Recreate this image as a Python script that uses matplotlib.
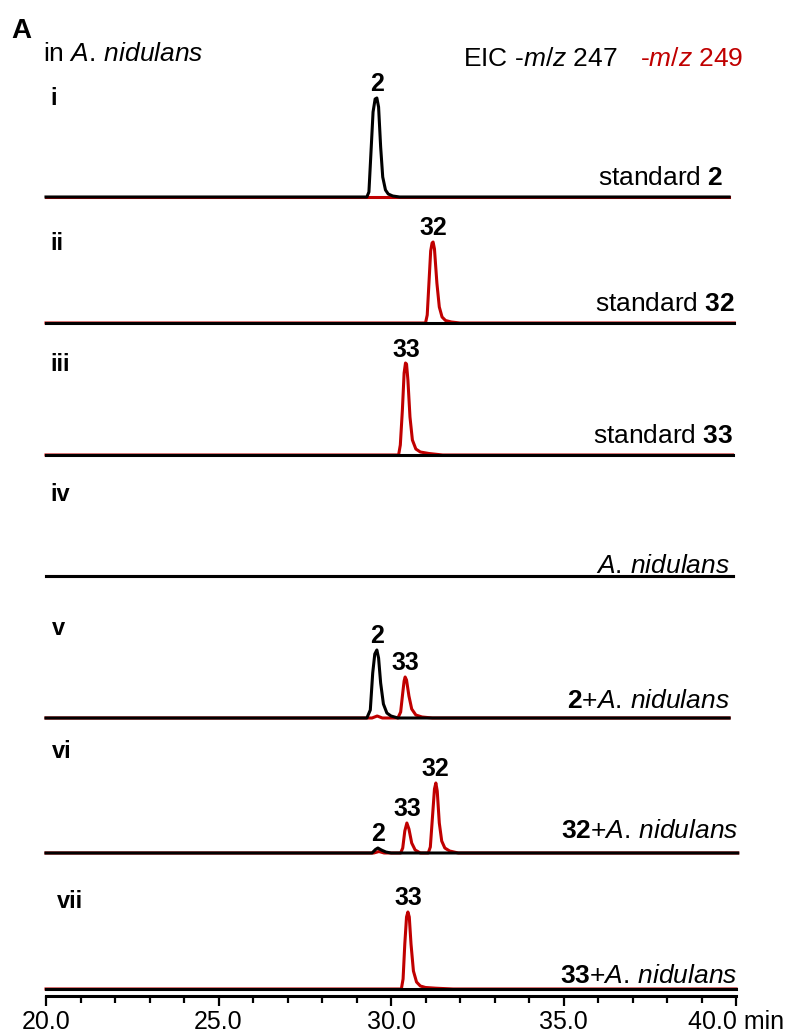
import numpy as np
import matplotlib
matplotlib.use("Agg")
import matplotlib.pyplot as plt
from matplotlib.ticker import MultipleLocator, FuncFormatter

plt.rcParams['font.family'] = ['Liberation Sans', 'DejaVu Sans']
plt.rcParams['mathtext.fontset'] = 'custom'
plt.rcParams['mathtext.rm'] = 'Liberation Sans'
plt.rcParams['mathtext.it'] = 'Liberation Sans:italic'
plt.rcParams['mathtext.bf'] = 'Liberation Sans:bold'

BLACK = '#000000'
RED = '#c00000'

# EIC traces, time in min, intensity relative (1.0 = full panel peak)
panel_ids = ['i', 'ii', 'iii', 'iv', 'v', 'vi', 'vii']
species = r'$\mathit{A.}\,\mathit{nidulans}$'
sample_names = [r'standard $\mathbf{2}$',
                r'standard $\mathbf{32}$',
                r'standard $\mathbf{33}$',
                species,
                r'$\mathbf{2}$+' + species,
                r'$\mathbf{32}$+' + species,
                r'$\mathbf{33}$+' + species]

# m/z 247 (black)
t_247 = [
    [20.0, 29.30, 29.36, 29.42, 29.48, 29.54, 29.59, 29.64, 29.70, 29.76, 29.84, 29.92, 30.05, 30.25, 39.8],
    [20.0, 39.95],
    [20.0, 39.9],
    [20.0, 39.9],
    [20.0, 29.30, 29.40, 29.47, 29.53, 29.59, 29.64, 29.70, 29.78, 29.88, 30.00, 30.20, 39.8],
    [20.0, 29.45, 29.55, 29.62, 29.72, 29.85, 30.00, 40.05],
    [20.0, 40.0],
]
i_247 = [
    [0, 0, 0.05, 0.45, 0.85, 0.98, 0.99, 0.90, 0.50, 0.20, 0.07, 0.03, 0.01, 0, 0],
    [0, 0],
    [0, 0],
    [0, 0],
    [0, 0, 0.08, 0.45, 0.64, 0.68, 0.60, 0.35, 0.14, 0.05, 0.02, 0, 0],
    [0, 0, 0.035, 0.05, 0.03, 0.01, 0, 0],
    [0, 0],
]

# m/z 249 (red)
t_249 = [
    [20.0, 39.8],
    [20.0, 31.00, 31.05, 31.10, 31.15, 31.19, 31.22, 31.26, 31.33, 31.40, 31.48, 31.58, 31.75, 32.00, 39.95],
    [20.0, 30.22, 30.27, 30.33, 30.38, 30.42, 30.45, 30.49, 30.55, 30.62, 30.72, 30.85, 31.10, 31.50, 39.9],
    [20.0, 39.9],
    [20.0, 29.45, 29.60, 29.75, 30.20, 30.28, 30.34, 30.38, 30.41, 30.45, 30.52, 30.60, 30.72, 30.90, 31.20, 39.8],
    [20.0, 29.50, 29.65, 29.80, 30.28, 30.34, 30.40, 30.46, 30.52, 30.60, 30.70, 30.85,
     31.08, 31.14, 31.20, 31.26, 31.30, 31.34, 31.40, 31.47, 31.56, 31.70, 31.95, 40.05],
    [20.0, 30.30, 30.35, 30.40, 30.45, 30.49, 30.53, 30.58, 30.65, 30.74, 30.85, 31.00, 31.30, 31.80, 40.0],
]
i_249 = [
    [0, 0],
    [0, 0, 0.08, 0.40, 0.72, 0.80, 0.81, 0.74, 0.40, 0.16, 0.06, 0.025, 0.01, 0, 0],
    [0, 0, 0.10, 0.45, 0.82, 0.92, 0.91, 0.75, 0.38, 0.15, 0.06, 0.03, 0.015, 0, 0],
    [0, 0],
    [0, 0, 0.02, 0, 0, 0.06, 0.25, 0.37, 0.41, 0.38, 0.22, 0.09, 0.03, 0.01, 0, 0],
    [0, 0, 0.015, 0, 0, 0.05, 0.22, 0.30, 0.24, 0.10, 0.03, 0,
     0, 0.06, 0.35, 0.64, 0.70, 0.62, 0.30, 0.12, 0.05, 0.02, 0, 0],
    [0, 0, 0.10, 0.45, 0.72, 0.77, 0.72, 0.45, 0.18, 0.07, 0.03, 0.015, 0.008, 0, 0],
]

# peak annotations: (compound, trace, retention time)
peak_labels = [
    [('2', 247, 29.59)],
    [('32', 249, 31.22)],
    [('33', 249, 30.45)],
    [],
    [('2', 247, 29.59), ('33', 249, 30.41)],
    [('2', 247, 29.62), ('33', 249, 30.46), ('32', 249, 31.30)],
    [('33', 249, 30.49)],
]

# layout (pixels)
W, H = 788, 1034
x_left, x_right, axis_y = 46, 736, 996
px_per_unit = 100.0
baseline_px = [197, 323, 455, 576, 718, 853, 989]
id_pos = [(50, 105), (50, 250), (50, 371), (50, 501), (52, 635), (52, 758), (57, 908)]
name_pos = [(724, 185), (735, 311), (733, 443), (730, 573), (730, 708), (738, 838), (737, 983)]


def fpos(x, y):
    return x / W, 1 - y / H


fig = plt.figure(figsize=(W / 100, H / 100), dpi=100)
ax = fig.add_axes([x_left / W, (H - axis_y) / H, (x_right - x_left) / W, axis_y / H])
ax.set_xlim(20, 40)
ax.set_ylim(0, axis_y / px_per_unit)

for k in range(len(panel_ids)):
    off = (axis_y - baseline_px[k]) / px_per_unit
    tr = np.array(t_249[k]); yr = np.array(i_249[k])
    tb = np.array(t_247[k]); yb = np.array(i_247[k])
    ax.plot(tr, off + yr, color=RED, lw=2.2, clip_on=False, solid_joinstyle='round')
    ax.plot(tb, off + yb, color=BLACK, lw=2.2, clip_on=False, solid_joinstyle='round')

    traces = {247: (tb, yb), 249: (tr, yr)}
    for name, mz, rt in peak_labels[k]:
        t, y = traces[mz]
        h = np.interp(rt, t, y)
        ax.annotate(name, (rt, off + h), xytext=(0, 5), textcoords='offset points',
                    ha='center', va='baseline', fontsize=18, fontweight='bold')

    fig.text(*fpos(*id_pos[k]), panel_ids[k], ha='left', va='baseline',
             fontsize=17, fontweight='bold')
    fig.text(*fpos(*name_pos[k]), sample_names[k], ha='right', va='baseline', fontsize=19)

for s in ['top', 'left', 'right']:
    ax.spines[s].set_visible(False)
ax.spines['bottom'].set_linewidth(2.2)
ax.set_yticks([])
ax.xaxis.set_major_locator(MultipleLocator(5))
ax.xaxis.set_minor_locator(MultipleLocator(1))
ax.xaxis.set_major_formatter(FuncFormatter(
    lambda v, p: f'{v:.1f} min' if abs(v - 40) < 1e-6 else f'{v:.1f}'))
ax.tick_params(axis='x', which='major', direction='out', length=7, width=1.6,
               labelsize=18, pad=3)
ax.tick_params(axis='x', which='minor', direction='out', length=5, width=1.6)

fig.text(*fpos(11, 38), 'A', ha='left', va='baseline', fontsize=20, fontweight='bold')
fig.text(*fpos(43, 61), r'in ' + species, ha='left', va='baseline', fontsize=19)
fig.text(*fpos(463, 66), r'EIC -$\mathit{m/z}$ 247', ha='left', va='baseline', fontsize=19)
fig.text(*fpos(743, 66), r'-$\mathit{m/z}$ 249', ha='right', va='baseline', fontsize=19,
         color=RED)

fig.savefig('out.png', dpi=100)
